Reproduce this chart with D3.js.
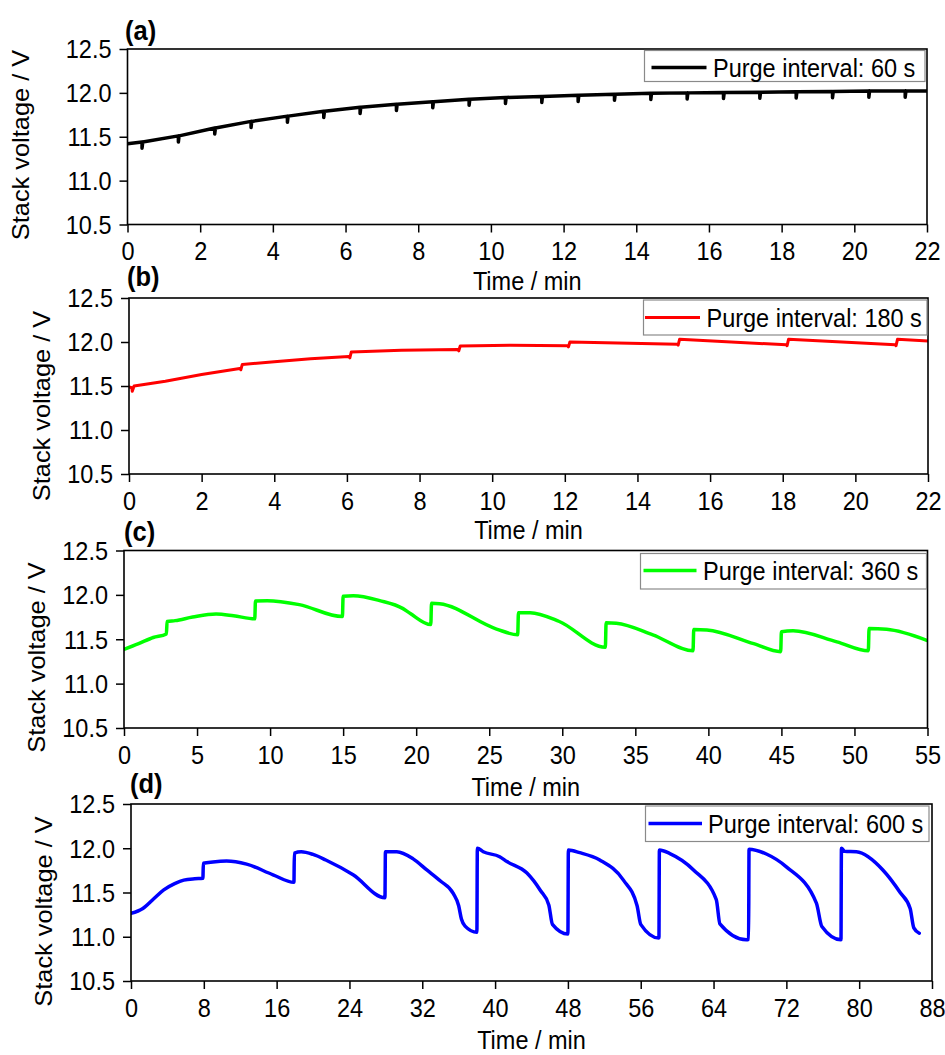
<!DOCTYPE html>
<html>
<head>
<meta charset="utf-8">
<script src="https://cdn.jsdelivr.net/npm/d3@7"></script>
<style>
  html, body { margin: 0; padding: 0; background: #fff; }
  svg { display: block; }
  text { font-family: "Liberation Sans", Arial, Helvetica, sans-serif; fill: #000; }
</style>
</head>
<body>
<svg id="chart" width="945" height="1055"></svg>
<script>
// ---------------- data ----------------
const voltageTicks = [10.5, 11.0, 11.5, 12.0, 12.5];
const timeTicksA = [0, 2, 4, 6, 8, 10, 12, 14, 16, 18, 20, 22];
const timeTicksB = [0, 2, 4, 6, 8, 10, 12, 14, 16, 18, 20, 22];
const timeTicksC = [0, 5, 10, 15, 20, 25, 30, 35, 40, 45, 50, 55];
const timeTicksD = [0, 8, 16, 24, 32, 40, 48, 56, 64, 72, 80, 88];

const panelLabels = ["(a)", "(b)", "(c)", "(d)"];
const legendLabels = ["Purge interval: 60 s", "Purge interval: 180 s",
                      "Purge interval: 360 s", "Purge interval: 600 s"];
const xTitle = "Time / min";
const yTitle = "Stack voltage / V";

// (a) 60 s purge: voltage just before each purge and at the bottom of the purge dip
const startA = [0, 11.42];
const endA = [22, 12.02];
const purgeTimesA = [0.4, 1.4, 2.4, 3.4, 4.4, 5.4, 6.4, 7.4, 8.4, 9.4, 10.4,
                     11.4, 12.4, 13.4, 14.4, 15.4, 16.4, 17.4, 18.4, 19.4, 20.4, 21.4];
const voltBeforeA = [11.44, 11.51, 11.60, 11.675, 11.735, 11.79, 11.835, 11.87, 11.9, 11.928, 11.948,
                     11.96, 11.972, 11.985, 11.995, 12.0, 12.005, 12.008, 12.012, 12.015, 12.02, 12.02];
const voltDipA = [11.37, 11.44, 11.53, 11.605, 11.665, 11.72, 11.765, 11.80, 11.83, 11.858, 11.878,
                  11.89, 11.902, 11.915, 11.925, 11.93, 11.935, 11.938, 11.942, 11.945, 11.95, 11.95];

// (b) 180 s purge
const seriesB = [
  [0, 11.49], [0.08, 11.48], [0.09, 11.44], [0.14, 11.50], [1.0, 11.555], [2.0, 11.63],
  [3.05, 11.70], [3.08, 11.685], [3.12, 11.745], [4.0, 11.775], [5.0, 11.81],
  [6.05, 11.835], [6.08, 11.82], [6.12, 11.885], [7.5, 11.905], [9.05, 11.915],
  [9.08, 11.90], [9.12, 11.955], [10.5, 11.962], [12.08, 11.958], [12.1, 11.945],
  [12.14, 12.0], [15.1, 11.975], [15.12, 11.965], [15.16, 12.03], [18.1, 11.968],
  [18.12, 11.958], [18.16, 12.03], [21.1, 11.968], [21.12, 11.958], [21.16, 12.03],
  [22, 12.01]
];

// (c) 360 s purge
const seriesC = [
  [0, 11.385], [1.0, 11.45], [2.0, 11.52], [2.9, 11.56], [2.95, 11.70], [3.5, 11.71],
  [4.7, 11.75], [6.3, 11.785], [7.5, 11.765], [8.95, 11.73], [9.0, 11.93], [9.8, 11.935],
  [12.0, 11.89], [14.95, 11.755], [15.0, 11.985], [15.7, 11.99], [17.5, 11.935],
  [19.1, 11.845], [19.6, 11.79], [21.0, 11.665], [21.05, 11.905], [21.6, 11.90],
  [25.5, 11.615], [26.95, 11.55], [27.0, 11.80], [27.8, 11.80], [29.8, 11.70],
  [32.95, 11.41], [33.0, 11.685], [33.7, 11.68], [36.2, 11.55], [38.95, 11.37],
  [39.0, 11.61], [39.9, 11.605], [43.1, 11.45], [44.95, 11.36], [45.0, 11.585],
  [45.8, 11.595], [48.8, 11.47], [50.95, 11.37], [51.0, 11.62], [52.2, 11.612],
  [55, 11.485]
];

// (d) 600 s purge
const seriesD = [
  [0, 11.265], [1.3, 11.32], [2.5, 11.43], [3.6, 11.53], [4.8, 11.60], [5.8, 11.64],
  [7.0, 11.655], [7.9, 11.66], [7.95, 11.83], [9.0, 11.845], [10.5, 11.855], [12.7, 11.82],
  [15.6, 11.70], [17.9, 11.615], [17.95, 11.945], [18.7, 11.96], [20.0, 11.93],
  [21.4, 11.867], [24.4, 11.70], [27.9, 11.44], [27.95, 11.96], [29.2, 11.96],
  [31.0, 11.88], [32.5, 11.755], [34.0, 11.63], [35.4, 11.49], [36.0, 11.35],
  [36.3, 11.20], [36.7, 11.12], [38.0, 11.05], [38.05, 12.0], [38.7, 11.96],
  [40.5, 11.905], [41.3, 11.85], [43.5, 11.72], [45.0, 11.52], [45.9, 11.36],
  [46.3, 11.14], [48.0, 11.03], [48.05, 11.98], [49.3, 11.95], [51.5, 11.867],
  [54.1, 11.64], [55.6, 11.35], [56.0, 11.14], [58.0, 10.985], [58.05, 11.98],
  [59.2, 11.94], [61.8, 11.755], [64.3, 11.42], [64.7, 11.145], [67.6, 10.965],
  [67.85, 10.97], [67.9, 11.99], [69.8, 11.935], [72.0, 11.79], [75.3, 11.38],
  [75.9, 11.115], [78.0, 10.965], [78.05, 12.0], [78.4, 11.965], [79.7, 11.96],
  [82.6, 11.755], [84.5, 11.50], [85.6, 11.32], [86.0, 11.10], [86.6, 11.04]
];

// (a) path points: a short downward spike at every purge
const seriesA = [startA];
purgeTimesA.forEach((t, i) => {
  seriesA.push([t, voltBeforeA[i]], [t, voltDipA[i]], [t + 0.02, voltBeforeA[i]]);
});
seriesA.push(endA);

// ---------------- layout ----------------
const STRETCH = 1.08;      // slightly tall lettering
const FONT = 23.5;

const panels = [
  { series: seriesA, ticks: timeTicksA, domain: [0, 22], color: "#000000", width: 3.5, curve: d3.curveLinear,
    frame: { x0: 127.5, x1: 927, y0: 49, y1: 224.5 }, label: [125, 39.5], yTitleX: 28.5, yTitleY: 145, xTitleY: 290,
    legend: { x: 644.5, y: 50.5, w: 280.5, h: 31, lx0: 651.5, lx1: 706.5, ly: 67.5, tx: 713, ty: 76.5 } },
  { series: seriesB, ticks: timeTicksB, domain: [0, 22], color: "#ff0000", width: 3, curve: d3.curveLinear,
    frame: { x0: 129, x1: 928, y0: 298, y1: 474 }, label: [127, 285.5], yTitleX: 49.5, yTitleY: 406, xTitleY: 539,
    legend: { x: 643.5, y: 300, w: 283.5, h: 35, lx0: 645, lx1: 700, ly: 317.5, tx: 706.5, ty: 326.5 } },
  { series: seriesC, ticks: timeTicksC, domain: [0, 55], color: "#00ff00", width: 3.5, curve: d3.curveMonotoneX,
    frame: { x0: 124, x1: 927.5, y0: 550.5, y1: 728 }, label: [124, 541], yTitleX: 44.5, yTitleY: 657.5, xTitleY: 796,
    legend: { x: 640.5, y: 553.5, w: 286, h: 35.5, lx0: 643.5, lx1: 696.5, ly: 570.5, tx: 703, ty: 579.5 } },
  { series: seriesD, ticks: timeTicksD, domain: [0, 88], color: "#0000ff", width: 3.5, curve: d3.curveMonotoneX,
    frame: { x0: 131, x1: 932, y0: 804, y1: 981 }, label: [130, 792.5], yTitleX: 51.5, yTitleY: 911.5, xTitleY: 1049,
    legend: { x: 645.5, y: 806, w: 283.5, h: 35.5, lx0: 648.5, lx1: 702, ly: 823.5, tx: 708, ty: 832.5 } }
];

const svg = d3.select("#chart");
svg.append("rect").attr("width", 945).attr("height", 1055).attr("fill", "#fff");

panels.forEach((p, i) => {
  const f = p.frame;
  const x = d3.scaleLinear().domain(p.domain).range([f.x0, f.x1]);
  const y = d3.scaleLinear().domain([10.5, 12.5]).range([f.y1, f.y0]);
  const g = svg.append("g").attr("class", "panel");

  // data line, clipped to the plotting frame
  const clipId = "clip" + i;
  svg.append("clipPath").attr("id", clipId).append("rect")
    .attr("x", f.x0).attr("y", f.y0).attr("width", f.x1 - f.x0).attr("height", f.y1 - f.y0);
  g.append("path")
    .datum(p.series)
    .attr("clip-path", `url(#${clipId})`)
    .attr("fill", "none")
    .attr("stroke", p.color)
    .attr("stroke-width", p.width)
    .attr("stroke-linejoin", "round")
    .attr("stroke-linecap", "round")
    .attr("d", d3.line().x(d => x(d[0])).y(d => y(d[1])).curve(p.curve));

  // bottom axis
  const xAxis = g.append("g")
    .attr("transform", `translate(0,${f.y1})`)
    .call(d3.axisBottom(x).tickValues(p.ticks).tickFormat(d3.format("d")).tickSize(8).tickSizeOuter(0));
  xAxis.select(".domain").remove();
  xAxis.selectAll(".tick line").attr("stroke", "#000").attr("stroke-width", 1.5);
  xAxis.selectAll(".tick text")
    .attr("font-size", FONT).attr("font-family", null)
    .attr("y", 36 / STRETCH).attr("dy", 0)
    .attr("transform", `scale(1,${STRETCH})`);

  // left axis
  const yAxis = g.append("g")
    .attr("transform", `translate(${f.x0},0)`)
    .call(d3.axisLeft(y).tickValues(voltageTicks).tickFormat(d3.format(".1f")).tickSize(8).tickPadding(8).tickSizeOuter(0));
  yAxis.select(".domain").remove();
  yAxis.selectAll(".tick line").attr("stroke", "#000").attr("stroke-width", 1.5);
  yAxis.selectAll(".tick text")
    .attr("font-size", FONT).attr("font-family", null)
    .attr("y", 8.8 / STRETCH).attr("dy", 0)
    .attr("transform", `scale(1,${STRETCH})`);

  // frame
  g.append("rect")
    .attr("x", f.x0).attr("y", f.y0)
    .attr("width", f.x1 - f.x0).attr("height", f.y1 - f.y0)
    .attr("fill", "none").attr("stroke", "#000").attr("stroke-width", 1.6);

  // panel tag
  g.append("text")
    .attr("transform", `translate(${p.label[0]},${p.label[1]}) scale(1,${STRETCH})`)
    .attr("font-size", 25.5).attr("font-weight", "bold")
    .text(panelLabels[i]);

  // axis titles
  g.append("text")
    .attr("transform", `translate(${(f.x0 + f.x1) / 2},${p.xTitleY}) scale(1,${STRETCH})`)
    .attr("text-anchor", "middle").attr("font-size", FONT)
    .text(xTitle);
  g.append("text")
    .attr("transform", `translate(${p.yTitleX},${p.yTitleY}) rotate(-90) scale(${STRETCH},1)`)
    .attr("text-anchor", "middle").attr("font-size", FONT)
    .text(yTitle);

  // legend
  const L = p.legend;
  const lg = g.append("g").attr("class", "legend");
  lg.append("rect")
    .attr("x", L.x).attr("y", L.y).attr("width", L.w).attr("height", L.h)
    .attr("fill", "#fff").attr("stroke", "#8a8a8a").attr("stroke-width", 1.2);
  lg.append("line")
    .attr("x1", L.lx0).attr("x2", L.lx1).attr("y1", L.ly).attr("y2", L.ly)
    .attr("stroke", p.color).attr("stroke-width", p.width);
  lg.append("text")
    .attr("transform", `translate(${L.tx},${L.ty}) scale(1,${STRETCH})`)
    .attr("font-size", FONT)
    .text(legendLabels[i]);
});
</script>
</body>
</html>
